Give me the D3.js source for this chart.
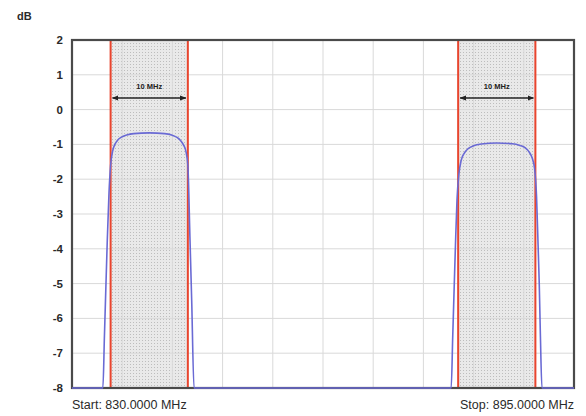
<!DOCTYPE html>
<html>
<head>
<meta charset="utf-8">
<script src="https://cdn.jsdelivr.net/npm/d3@7"></script>
<style>
  body { margin: 0; background: #fff; }
  text { font-family: "Liberation Sans", Arial, Helvetica, sans-serif; fill: #2a2a2a; }
</style>
</head>
<body>
<div id="chart"></div>
<script>
// Axis range and labels
const freqDomain = [830, 895]
const dbTicks = [2, 1, 0, -1, -2, -3, -4, -5, -6, -7, -8]
const startLabel = "Start: 830.0000 MHz"
const stopLabel = "Stop: 895.0000 MHz"

// Bandes de 10 MHz
const bands = [[835, 845], [880, 890]]
const bandLabels = ["10 MHz", "10 MHz"]

// Réponse du filtre (MHz, dB)
const traceFreq = [830, 834.0, 834.2, 834.4, 834.57, 834.79, 835.0, 835.25, 835.55, 835.9, 836.4, 837.08, 838, 840, 842, 842.9, 843.6, 844.1, 844.45, 844.75, 845.0, 845.28, 845.5, 845.8,
  879.1, 879.3, 879.5, 879.65, 879.85, 880.1, 880.4, 880.8, 881.3, 882.0, 883, 885, 887, 888, 888.7, 889.2, 889.6, 889.9, 890.15, 890.35, 890.5, 890.65, 890.85, 895]
const traceDb = [-8, -8, -6.5, -5, -3.75, -2.4, -1.6, -1.2, -1.0, -0.88, -0.79, -0.73, -0.69, -0.67, -0.69, -0.73, -0.8, -0.9, -1.02, -1.2, -1.6, -3.75, -5.5, -8,
  -8, -6.5, -5, -3.9, -2.6, -1.85, -1.45, -1.25, -1.12, -1.04, -0.99, -0.96, -0.98, -1.03, -1.1, -1.22, -1.4, -1.7, -2.5, -3.9, -5, -6.5, -8, -8]

const width = 586, height = 416
const plot = { left: 72, right: 574, top: 40, bottom: 388 }

const svg = d3.select("#chart").append("svg")
    .attr("width", width)
    .attr("height", height)

const x = d3.scaleLinear().domain(freqDomain).range([plot.left, plot.right])
const y = d3.scaleLinear().domain([-8, 2]).range([plot.bottom, plot.top])

// Motif pointillé des bandes
const defs = svg.append("defs")
const pat = defs.append("pattern")
    .attr("id", "dots")
    .attr("width", 3).attr("height", 3)
    .attr("patternUnits", "userSpaceOnUse")
pat.append("rect").attr("width", 3).attr("height", 3).attr("fill", "#e9e9e9")
pat.append("rect").attr("x", 1).attr("y", 1).attr("width", 1).attr("height", 1).attr("fill", "#bdbdbd")

const arrow = defs.append("marker")
    .attr("id", "arr")
    .attr("viewBox", "0 0 10 10")
    .attr("refX", 9).attr("refY", 5)
    .attr("markerWidth", 5).attr("markerHeight", 5)
    .attr("orient", "auto-start-reverse")
arrow.append("path").attr("d", "M0,1 L10,5 L0,9 Z").attr("fill", "#222")

// Bandes
svg.append("g")
    .selectAll("rect")
    .data(bands)
    .enter()
    .append("rect")
    .attr("x", d => x(d[0]))
    .attr("width", d => x(d[1]) - x(d[0]))
    .attr("y", plot.top)
    .attr("height", plot.bottom - plot.top)
    .attr("fill", "url(#dots)")

// Grille
const xGrid = d3.range(1, 10).map(i => freqDomain[0] + i * (freqDomain[1] - freqDomain[0]) / 10)
svg.append("g")
    .selectAll("line")
    .data(xGrid)
    .enter()
    .append("line")
    .attr("x1", d => x(d)).attr("x2", d => x(d))
    .attr("y1", plot.top).attr("y2", plot.bottom)
    .attr("stroke", "#d9d9d9")
    .attr("stroke-width", 1)
svg.append("g")
    .selectAll("line")
    .data(dbTicks.slice(1, -1))
    .enter()
    .append("line")
    .attr("x1", plot.left).attr("x2", plot.right)
    .attr("y1", d => y(d)).attr("y2", d => y(d))
    .attr("stroke", "#d9d9d9")
    .attr("stroke-width", 1)

// Lignes rouges
svg.append("g")
    .selectAll("line")
    .data(bands.flat())
    .enter()
    .append("line")
    .attr("x1", d => x(d)).attr("x2", d => x(d))
    .attr("y1", plot.top).attr("y2", plot.bottom)
    .attr("stroke", "#e8452e")
    .attr("stroke-width", 2)

// Cadre
svg.append("rect")
    .attr("x", plot.left).attr("y", plot.top)
    .attr("width", plot.right - plot.left)
    .attr("height", plot.bottom - plot.top)
    .attr("fill", "none")
    .attr("stroke", "#4a4a4a")
    .attr("stroke-width", 2.2)

// Courbe
const trace = traceFreq.map((f, i) => [f, traceDb[i]])
svg.append("path")
    .datum(trace)
    .attr("fill", "none")
    .attr("stroke", "#6a6ad4")
    .attr("stroke-width", 1.6)
    .attr("d", d3.line()
        .x(d => x(d[0]))
        .y(d => y(d[1]))
        .curve(d3.curveMonotoneX)
    )

// Flèches 10 MHz
const ann = svg.append("g")
ann.selectAll("line")
    .data(bands)
    .enter()
    .append("line")
    .attr("x1", d => x(d[0]) + 2).attr("x2", d => x(d[1]) - 2)
    .attr("y1", 98).attr("y2", 98)
    .attr("stroke", "#222")
    .attr("stroke-width", 1.3)
    .attr("marker-start", "url(#arr)")
    .attr("marker-end", "url(#arr)")
ann.selectAll("text")
    .data(bands)
    .enter()
    .append("text")
    .attr("x", d => x((d[0] + d[1]) / 2))
    .attr("y", 89)
    .attr("text-anchor", "middle")
    .attr("font-size", "7.5px")
    .attr("font-weight", "bold")
    .style("fill", "#222")
    .text((d, i) => bandLabels[i])

// Étiquettes de l'axe Y
svg.append("g")
    .selectAll("text")
    .data(dbTicks)
    .enter()
    .append("text")
    .attr("x", 63)
    .attr("y", d => y(d))
    .attr("dy", "0.35em")
    .attr("text-anchor", "end")
    .attr("font-size", "11.5px")
    .attr("font-weight", "bold")
    .text(d => d)

svg.append("text")
    .attr("x", 17).attr("y", 20)
    .attr("font-size", "11px")
    .attr("font-weight", "bold")
    .text("dB")

svg.append("text")
    .attr("x", plot.left).attr("y", 409)
    .attr("font-size", "12.5px")
    .text(startLabel)
svg.append("text")
    .attr("x", plot.right).attr("y", 409)
    .attr("text-anchor", "end")
    .attr("font-size", "12.5px")
    .text(stopLabel)
</script>
</body>
</html>
